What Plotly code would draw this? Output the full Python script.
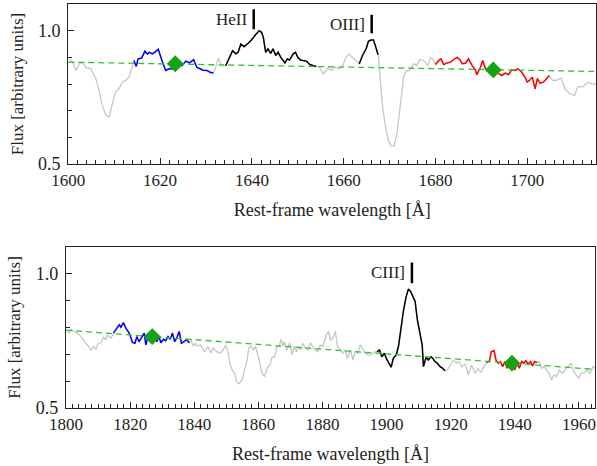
import plotly.graph_objects as go

# Top panel: HeII / OIII] region
wavelength_top = [1600.2, 1601.0, 1601.7, 1602.4, 1603.1, 1603.8, 1604.9, 1606.0, 1606.7, 1607.4, 1608.2, 1608.9, 1609.6, 1610.3, 1611.0, 1611.8, 1612.5, 1613.2, 1613.9, 1614.3, 1614.8, 1615.2, 1616.0, 1616.7, 1617.2, 1617.7, 1618.3, 1618.8, 1619.6, 1620.4, 1621.2, 1621.9, 1623.0, 1624.0, 1624.8, 1625.6, 1626.4, 1627.3, 1628.0, 1628.7, 1629.4, 1630.2, 1630.9, 1631.6, 1632.0, 1632.7, 1633.4, 1634.3, 1635.2, 1635.8, 1636.5, 1637.0, 1637.6, 1638.3, 1639.2, 1639.9, 1640.8, 1641.6, 1642.1, 1642.5, 1643.0, 1643.5, 1644.1, 1644.6, 1645.2, 1645.7, 1646.3, 1647.2, 1647.7, 1648.2, 1649.0, 1649.5, 1650.0, 1650.6, 1651.1, 1651.9, 1652.6, 1653.3, 1654.0, 1654.7, 1655.6, 1656.5, 1657.3, 1658.0, 1659.1, 1659.8, 1660.5, 1661.2, 1661.9, 1662.7, 1663.4, 1664.1, 1664.9, 1665.4, 1665.9, 1666.5, 1667.0, 1667.5, 1667.7, 1668.1, 1668.4, 1669.0, 1669.7, 1670.3, 1671.0, 1671.6, 1672.1, 1672.6, 1673.1, 1673.7, 1674.2, 1674.7, 1675.3, 1675.9, 1676.6, 1677.3, 1677.8, 1678.3, 1678.9, 1679.5, 1680.0, 1680.7, 1681.2, 1681.8, 1682.5, 1683.3, 1684.0, 1684.7, 1685.3, 1685.8, 1686.5, 1687.2, 1688.0, 1688.7, 1689.0, 1689.8, 1690.3, 1690.8, 1691.4, 1692.1, 1693.0, 1693.7, 1694.4, 1695.2, 1695.9, 1696.6, 1697.3, 1698.0, 1698.8, 1699.5, 1700.0, 1700.6, 1701.1, 1701.7, 1702.2, 1702.8, 1703.5, 1704.2, 1704.8, 1705.6, 1706.5, 1707.4, 1708.2, 1709.2, 1710.3, 1711.0, 1712.1, 1713.2, 1714.3, 1715.0]
flux_top = [0.894, 0.882, 0.851, 0.876, 0.882, 0.863, 0.857, 0.820, 0.776, 0.720, 0.683, 0.677, 0.726, 0.770, 0.782, 0.807, 0.813, 0.826, 0.863, 0.888, 0.866, 0.894, 0.898, 0.923, 0.913, 0.919, 0.913, 0.919, 0.930, 0.888, 0.851, 0.857, 0.857, 0.869, 0.869, 0.886, 0.879, 0.891, 0.863, 0.857, 0.852, 0.851, 0.844, 0.841, 0.857, 0.898, 0.869, 0.869, 0.907, 0.925, 0.913, 0.919, 0.950, 0.940, 0.953, 0.965, 0.985, 1.000, 0.994, 0.975, 0.919, 0.932, 0.915, 0.932, 0.907, 0.919, 0.900, 0.879, 0.894, 0.890, 0.913, 0.919, 0.900, 0.890, 0.888, 0.886, 0.873, 0.869, 0.866, 0.863, 0.837, 0.860, 0.851, 0.863, 0.857, 0.869, 0.900, 0.913, 0.900, 0.888, 0.876, 0.907, 0.932, 0.960, 0.965, 0.965, 0.938, 0.910, 0.876, 0.801, 0.726, 0.652, 0.590, 0.568, 0.568, 0.614, 0.689, 0.764, 0.832, 0.851, 0.849, 0.863, 0.876, 0.869, 0.892, 0.888, 0.882, 0.869, 0.898, 0.894, 0.873, 0.888, 0.894, 0.873, 0.879, 0.882, 0.892, 0.900, 0.892, 0.876, 0.878, 0.894, 0.869, 0.853, 0.835, 0.863, 0.888, 0.861, 0.848, 0.844, 0.848, 0.841, 0.832, 0.841, 0.835, 0.853, 0.851, 0.857, 0.844, 0.826, 0.807, 0.815, 0.826, 0.782, 0.820, 0.803, 0.807, 0.820, 0.832, 0.813, 0.815, 0.823, 0.782, 0.764, 0.757, 0.789, 0.789, 0.807, 0.799, 0.800]

# Bottom panel: CIII] region
wavelength_bottom = [1800.3, 1801.0, 1801.6, 1802.4, 1803.6, 1804.7, 1805.7, 1806.7, 1807.8, 1808.6, 1809.3, 1810.1, 1810.9, 1811.7, 1812.4, 1812.9, 1814.0, 1814.8, 1815.9, 1816.6, 1817.1, 1817.9, 1818.7, 1819.7, 1820.2, 1820.7, 1821.5, 1822.1, 1822.8, 1823.5, 1824.4, 1824.9, 1825.6, 1826.4, 1827.5, 1828.3, 1829.0, 1829.6, 1830.4, 1831.1, 1831.8, 1832.5, 1833.2, 1833.9, 1834.5, 1835.3, 1836.0, 1836.8, 1837.6, 1838.4, 1838.9, 1839.7, 1840.4, 1840.9, 1841.8, 1842.5, 1843.2, 1844.3, 1845.1, 1845.9, 1847.0, 1848.0, 1849.0, 1849.8, 1850.5, 1851.1, 1851.8, 1852.6, 1853.2, 1853.9, 1854.9, 1855.7, 1856.5, 1857.0, 1857.7, 1858.4, 1859.1, 1859.8, 1860.5, 1861.2, 1861.9, 1862.7, 1863.6, 1864.3, 1865.0, 1865.8, 1866.5, 1867.1, 1867.7, 1868.1, 1868.9, 1869.8, 1870.5, 1871.2, 1871.9, 1872.6, 1873.3, 1873.9, 1874.7, 1875.4, 1876.2, 1877.0, 1877.8, 1878.5, 1879.3, 1880.1, 1881.2, 1881.9, 1882.5, 1883.2, 1884.0, 1884.7, 1885.6, 1886.4, 1887.1, 1887.8, 1888.7, 1889.5, 1890.2, 1891.0, 1891.8, 1892.6, 1893.3, 1894.1, 1894.9, 1895.7, 1896.5, 1897.0, 1897.8, 1898.5, 1899.3, 1899.9, 1900.6, 1901.4, 1902.1, 1903.0, 1903.7, 1904.4, 1905.3, 1906.1, 1906.8, 1907.5, 1908.2, 1908.9, 1909.6, 1910.5, 1911.1, 1911.5, 1912.3, 1913.0, 1913.8, 1914.4, 1915.1, 1915.8, 1916.7, 1917.5, 1918.2, 1919.0, 1919.8, 1920.8, 1921.8, 1922.6, 1923.4, 1924.5, 1925.5, 1926.5, 1927.6, 1928.6, 1929.3, 1930.4, 1931.2, 1932.0, 1932.7, 1933.5, 1934.1, 1934.8, 1935.5, 1936.2, 1936.9, 1937.6, 1938.3, 1939.2, 1940.0, 1940.7, 1941.4, 1942.1, 1942.8, 1943.4, 1944.2, 1944.9, 1945.5, 1946.2, 1947.0, 1947.6, 1948.3, 1949.1, 1949.9, 1950.7, 1951.5, 1952.2, 1953.0, 1953.9, 1954.8, 1955.7, 1956.8, 1957.5, 1958.3, 1959.2, 1959.9, 1960.7, 1961.8, 1962.5, 1963.4, 1964.4, 1965.0]
flux_bottom = [0.785, 0.779, 0.794, 0.785, 0.779, 0.766, 0.747, 0.735, 0.716, 0.729, 0.719, 0.741, 0.743, 0.764, 0.754, 0.772, 0.760, 0.779, 0.801, 0.810, 0.801, 0.818, 0.797, 0.779, 0.764, 0.744, 0.741, 0.766, 0.747, 0.760, 0.779, 0.735, 0.766, 0.760, 0.785, 0.747, 0.766, 0.743, 0.756, 0.751, 0.766, 0.756, 0.779, 0.747, 0.760, 0.785, 0.741, 0.747, 0.756, 0.743, 0.754, 0.731, 0.741, 0.731, 0.735, 0.723, 0.710, 0.729, 0.706, 0.723, 0.710, 0.704, 0.716, 0.735, 0.710, 0.667, 0.642, 0.629, 0.598, 0.590, 0.604, 0.642, 0.679, 0.723, 0.731, 0.716, 0.729, 0.698, 0.660, 0.629, 0.617, 0.648, 0.660, 0.691, 0.689, 0.729, 0.729, 0.756, 0.731, 0.747, 0.716, 0.743, 0.698, 0.729, 0.710, 0.729, 0.716, 0.741, 0.723, 0.716, 0.743, 0.729, 0.716, 0.710, 0.735, 0.729, 0.772, 0.785, 0.754, 0.760, 0.785, 0.729, 0.716, 0.704, 0.716, 0.685, 0.716, 0.679, 0.710, 0.704, 0.735, 0.716, 0.704, 0.698, 0.698, 0.704, 0.710, 0.710, 0.716, 0.691, 0.704, 0.685, 0.667, 0.652, 0.685, 0.698, 0.729, 0.791, 0.866, 0.915, 0.943, 0.934, 0.915, 0.897, 0.828, 0.766, 0.735, 0.654, 0.689, 0.679, 0.691, 0.685, 0.673, 0.667, 0.654, 0.648, 0.639, 0.642, 0.660, 0.679, 0.667, 0.673, 0.654, 0.664, 0.623, 0.660, 0.629, 0.648, 0.632, 0.654, 0.669, 0.673, 0.710, 0.714, 0.679, 0.667, 0.673, 0.654, 0.673, 0.648, 0.673, 0.664, 0.642, 0.669, 0.648, 0.673, 0.667, 0.676, 0.664, 0.673, 0.657, 0.673, 0.669, 0.673, 0.648, 0.654, 0.642, 0.629, 0.604, 0.623, 0.617, 0.642, 0.629, 0.642, 0.654, 0.667, 0.636, 0.623, 0.611, 0.629, 0.632, 0.642, 0.629, 0.654, 0.650]

# Continuum windows (blue / red) and line windows (black), in Angstrom
blue_window_top = [1614.3, 1631.6]
line_windows_top = [[1634.3, 1654.0], [1663.4, 1667.5]]
red_window_top = [1680.0, 1704.8]
blue_window_bottom = [1814.8, 1838.4]
line_windows_bottom = [[1897.0, 1918.2]]
red_window_bottom = [1931.2, 1947.0]

# Continuum points (green diamonds) and fitted continuum (dashed)
continuum_points_wave_top = [1623.3, 1692.6]
continuum_points_flux_top = [0.876, 0.853]
continuum_wave_top = [1600, 1715]
continuum_flux_top = [0.882, 0.847]
continuum_points_wave_bottom = [1826.9, 1939.1]
continuum_points_flux_bottom = [0.766, 0.667]
continuum_wave_bottom = [1800, 1965]
continuum_flux_bottom = [0.790, 0.644]

# Emission line markers
line_names_top = ['HeII', 'OIII]']
line_waves_top = [1640.4, 1666.1]
line_marker_low_top = [1.005, 0.99]
line_marker_high_top = [1.080, 1.06]
line_names_bottom = ['CIII]']
line_waves_bottom = [1907.9]
line_marker_low_bottom = [0.965]
line_marker_high_bottom = [1.042]

FONT = 'Liberation Serif'
GRAY = '#c6c6c6'

def select(wave, flux, lo, hi):
	pairs = [(w, f) for w, f in zip(wave, flux) if lo <= w <= hi]
	return [p[0] for p in pairs], [p[1] for p in pairs]

def add_panel(fig, row, wave, flux, blue_window, line_windows, red_window, pts_w, pts_f, cont_w, cont_f, names, lwaves, lows, highs):
	xa = 'x' if row == 1 else 'x2'
	ya = 'y' if row == 1 else 'y2'
	fig.add_trace(go.Scatter(x=wave, y=flux, mode='lines', line=dict(color=GRAY, width=1.3), xaxis=xa, yaxis=ya))
	segments = [(blue_window, 'blue')] + [(w, 'black') for w in line_windows] + [(red_window, 'red')]
	for window, color in segments:
		sx, sy = select(wave, flux, *window)
		fig.add_trace(go.Scatter(x=sx, y=sy, mode='lines', line=dict(color=color, width=1.5), xaxis=xa, yaxis=ya))
	fig.add_trace(go.Scatter(x=cont_w, y=cont_f, mode='lines', line=dict(color='#2fc42f', width=1.3, dash='6px,4px'), xaxis=xa, yaxis=ya))
	fig.add_trace(go.Scatter(x=pts_w, y=pts_f, mode='markers', marker=dict(symbol='diamond', size=13, color='#16a316'), xaxis=xa, yaxis=ya))
	for name, w, lo, hi in zip(names, lwaves, lows, highs):
		fig.add_trace(go.Scatter(x=[w, w], y=[lo, hi], mode='lines', line=dict(color='black', width=2.5), xaxis=xa, yaxis=ya))
		fig.add_annotation(
			x = w, y = (lo+hi)/2, xref = xa, yref = ya,
			text = name, showarrow = False, xanchor = 'right', yanchor = 'middle',
			xshift = -5, font = dict(family=FONT, size=17, color='#222'),
		)

fig = go.Figure()
add_panel(fig, 1, wavelength_top, flux_top, blue_window_top, line_windows_top, red_window_top,
	continuum_points_wave_top, continuum_points_flux_top, continuum_wave_top, continuum_flux_top,
	line_names_top, line_waves_top, line_marker_low_top, line_marker_high_top)
add_panel(fig, 2, wavelength_bottom, flux_bottom, blue_window_bottom, line_windows_bottom, red_window_bottom,
	continuum_points_wave_bottom, continuum_points_flux_bottom, continuum_wave_bottom, continuum_flux_bottom,
	line_names_bottom, line_waves_bottom, line_marker_low_bottom, line_marker_high_bottom)

common_x = dict(
	showline = True, mirror = True, linecolor = '#222', linewidth = 1.4,
	ticks = 'inside', ticklen = 6, tickwidth = 1.2, tickcolor = '#222', dtick = 20,
	minor = dict(ticks='inside', ticklen=4, tickwidth=1, tickcolor='#222', dtick=2),
	showgrid = False, zeroline = False, automargin = False,
	tickfont = dict(family=FONT, size=17, color='#222'),
	title = dict(text='Rest-frame wavelength [Å]', font=dict(family=FONT, size=18, color='#222'), standoff=14),
)
common_y = dict(
	showline = True, mirror = True, linecolor = '#222', linewidth = 1.4,
	ticks = 'inside', ticklen = 6, tickwidth = 1.2, tickcolor = '#222',
	tickvals = [0.5, 1.0], ticktext = ['0.5', '1.0'],
	minor = dict(ticks='inside', ticklen=4, tickwidth=1, tickcolor='#222', tickvals=[0.6, 0.7, 0.8, 0.9]),
	showgrid = False, zeroline = False, range = [0.5, 1.1], automargin = False,
	tickfont = dict(family=FONT, size=18, color='#222'), ticklabelstandoff = 3,
	title = dict(text='Flux [arbitrary units]', font=dict(family=FONT, size=17, color='#222'), standoff=10),
)

fig.update_layout(
	width = 597, height = 466,
	margin = dict(l=0, r=0, t=0, b=0),
	paper_bgcolor = 'white', plot_bgcolor = 'white',
	showlegend = False,
	xaxis = dict(common_x, domain=[0.1144, 0.9985], range=[1600, 1715], anchor='y'),
	yaxis = dict(common_y, domain=[0.648, 0.9914], anchor='x'),
	xaxis2 = dict(common_x, domain=[0.1106, 0.9966], range=[1800, 1965], anchor='y2'),
	yaxis2 = dict(common_y, domain=[0.1245, 0.470], anchor='x2'),
)

# the page has a default 8px body margin; drop it so the figure sits at the window corner
fig.write_html(
	'out.html',
	config = {'displayModeBar': False},
	post_script = "document.body.style.margin='0';",
)
